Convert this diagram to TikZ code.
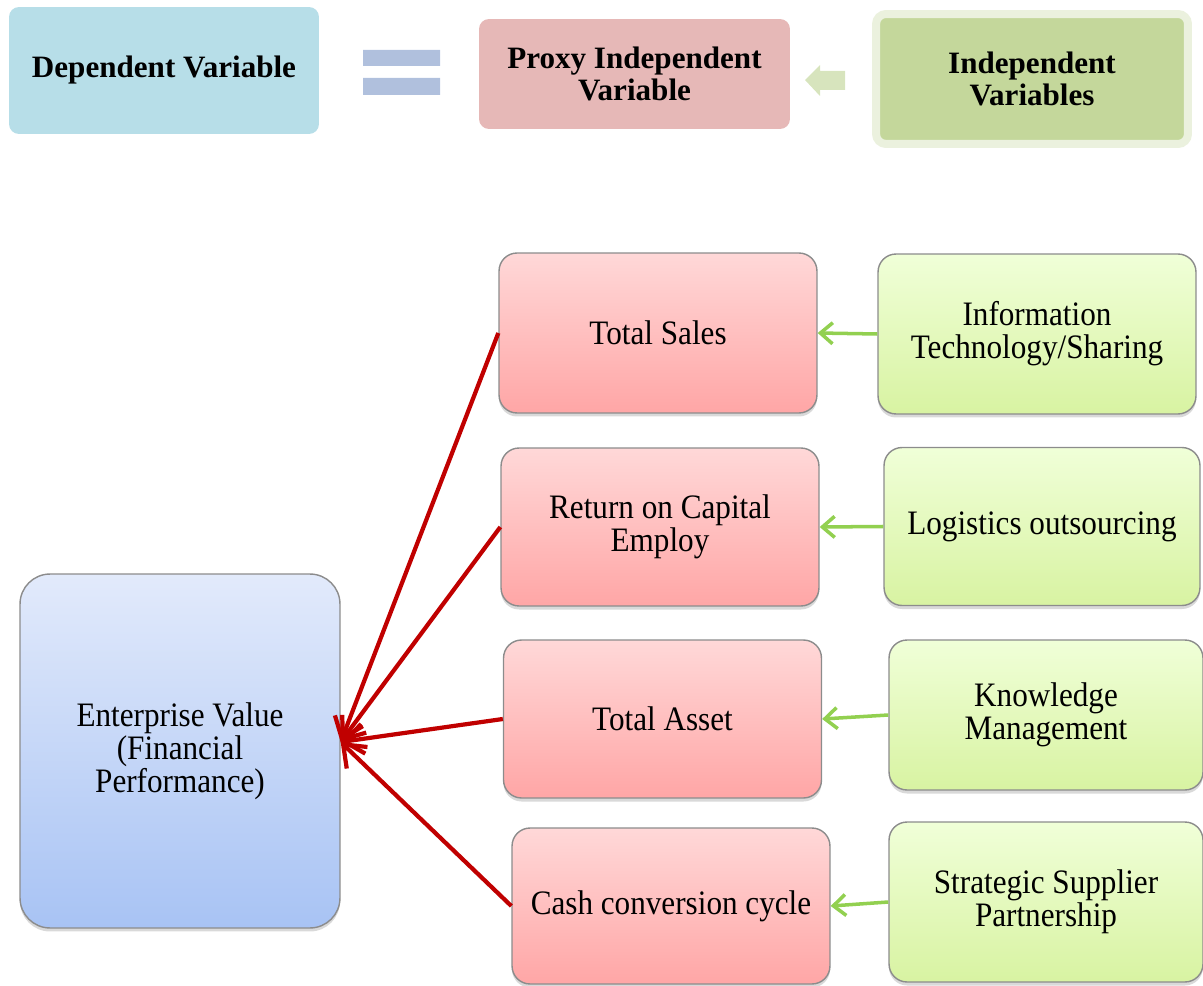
\documentclass[tikz,border=0pt]{standalone}
\usepackage{fontspec}
\setmainfont{Liberation Serif}
\newfontfamily\boxfont{Liberation Serif}[FakeStretch=0.91]
\usepackage{tikz}
\usetikzlibrary{arrows.meta, shadows}

\definecolor{depblue}{HTML}{B7DEE8}
\definecolor{proxyred}{HTML}{E6B8B7}
\definecolor{indgreen}{HTML}{C4D79B}
\definecolor{indrim}{HTML}{EBF1DE}
\definecolor{eqblue}{HTML}{B0C0DD}
\definecolor{arrgreen}{HTML}{D7E4BD}
\definecolor{darkred}{HTML}{C00000}
\definecolor{leafgreen}{HTML}{92D050}
\definecolor{pinktop}{HTML}{FFD8D8}
\definecolor{pinkbot}{HTML}{FFA6A6}
\definecolor{greentop}{HTML}{F0FFD8}
\definecolor{greenbot}{HTML}{D8F3A2}
\definecolor{bluetop}{HTML}{E2EAFB}
\definecolor{bluebot}{HTML}{A8C3F4}

\begin{document}
\begin{tikzpicture}[x=0.02cm, y=-0.02cm,
	key/.style={rounded corners=0.2cm, inner sep=0pt, align=center, font=\fontsize{17.7}{18.7}\selectfont\bfseries},
	box/.style={draw=black!45, line width=0.8pt, rounded corners=0.36cm, align=center, inner sep=0pt, minimum width=6.36cm, minimum height=3.16cm, font=\boxfont\fontsize{19.5}{18.7}\selectfont, drop shadow={shadow xshift=0pt, shadow yshift=-2pt, opacity=0.3}},
	proxy/.style={box, top color=pinktop, bottom color=pinkbot},
	indep/.style={box, top color=greentop, bottom color=greenbot},
	red arrow/.style={draw=darkred, line width=2.4pt, -{Straight Barb[length=11pt, width=17pt]}},
	green arrow/.style={draw=leafgreen, line width=2pt, -{Straight Barb[length=7pt, width=12pt]}}]
		\useasboundingbox (0,0) rectangle (1203,986);

		% legend
		\node[key, fill=depblue, minimum width=6.2cm, minimum height=2.54cm] (dv) at (164,70.5) {Dependent Variable};
		\node[key, fill=proxyred, minimum width=6.22cm, minimum height=2.2cm] (pv) at (634.5,74) {Proxy Independent\\Variable};
		\node[key, fill=indgreen, draw=indrim, line width=0.16cm, minimum width=6.24cm, minimum height=2.6cm] (iv) at (1032,79) {Independent\\Variables};
		\fill[eqblue] (363,50) rectangle (440,66) (363,78) rectangle (440,95);
		\fill[arrgreen] (805,80) -- (820,65) -- (820,71) -- (845,71) -- (845,90) -- (820,90) -- (820,96) -- cycle;

		% model
		\node[box, top color=bluetop, bottom color=bluebot, rounded corners=0.6cm, minimum width=6.4cm, minimum height=7.08cm] (ev) at (180,751) {Enterprise Value\\(Financial\\Performance)};

		\node[proxy, minimum height=3.2cm] (p1) at (658,333) {Total Sales};
		\node[proxy] (p2) at (660,527) {Return on Capital\\Employ};
		\node[proxy] (p3) at (662.5,719) {Total Asset};
		\node[proxy, minimum height=3.12cm] (p4) at (671,906) {Cash conversion cycle};

		\node[indep, minimum height=3.2cm] (i1) at (1037,334) {Information\\Technology/Sharing};
		\node[indep, minimum width=6.32cm] (i2) at (1042,526.5) {Logistics outsourcing};
		\node[indep, minimum width=6.28cm, minimum height=3cm] (i3) at (1046,715) {Knowledge\\Management};
		\node[indep, minimum width=6.28cm, minimum height=3.2cm] (i4) at (1046,902) {Strategic Supplier\\Partnership};

		\coordinate (ev-in) at ([yshift=0.18cm]ev.east);

		\path (p1.west) edge[red arrow] (ev-in)
			(p2.west) edge[red arrow] (ev-in)
			(p3.west) edge[red arrow] (ev-in)
			(p4.west) edge[red arrow] (ev-in);
		\path (i1.west) edge[green arrow] (p1.east)
			(i2.west) edge[green arrow] (p2.east)
			(i3.west) edge[green arrow] (p3.east)
			(i4.west) edge[green arrow] (p4.east);
	\end{tikzpicture}
\end{document}
